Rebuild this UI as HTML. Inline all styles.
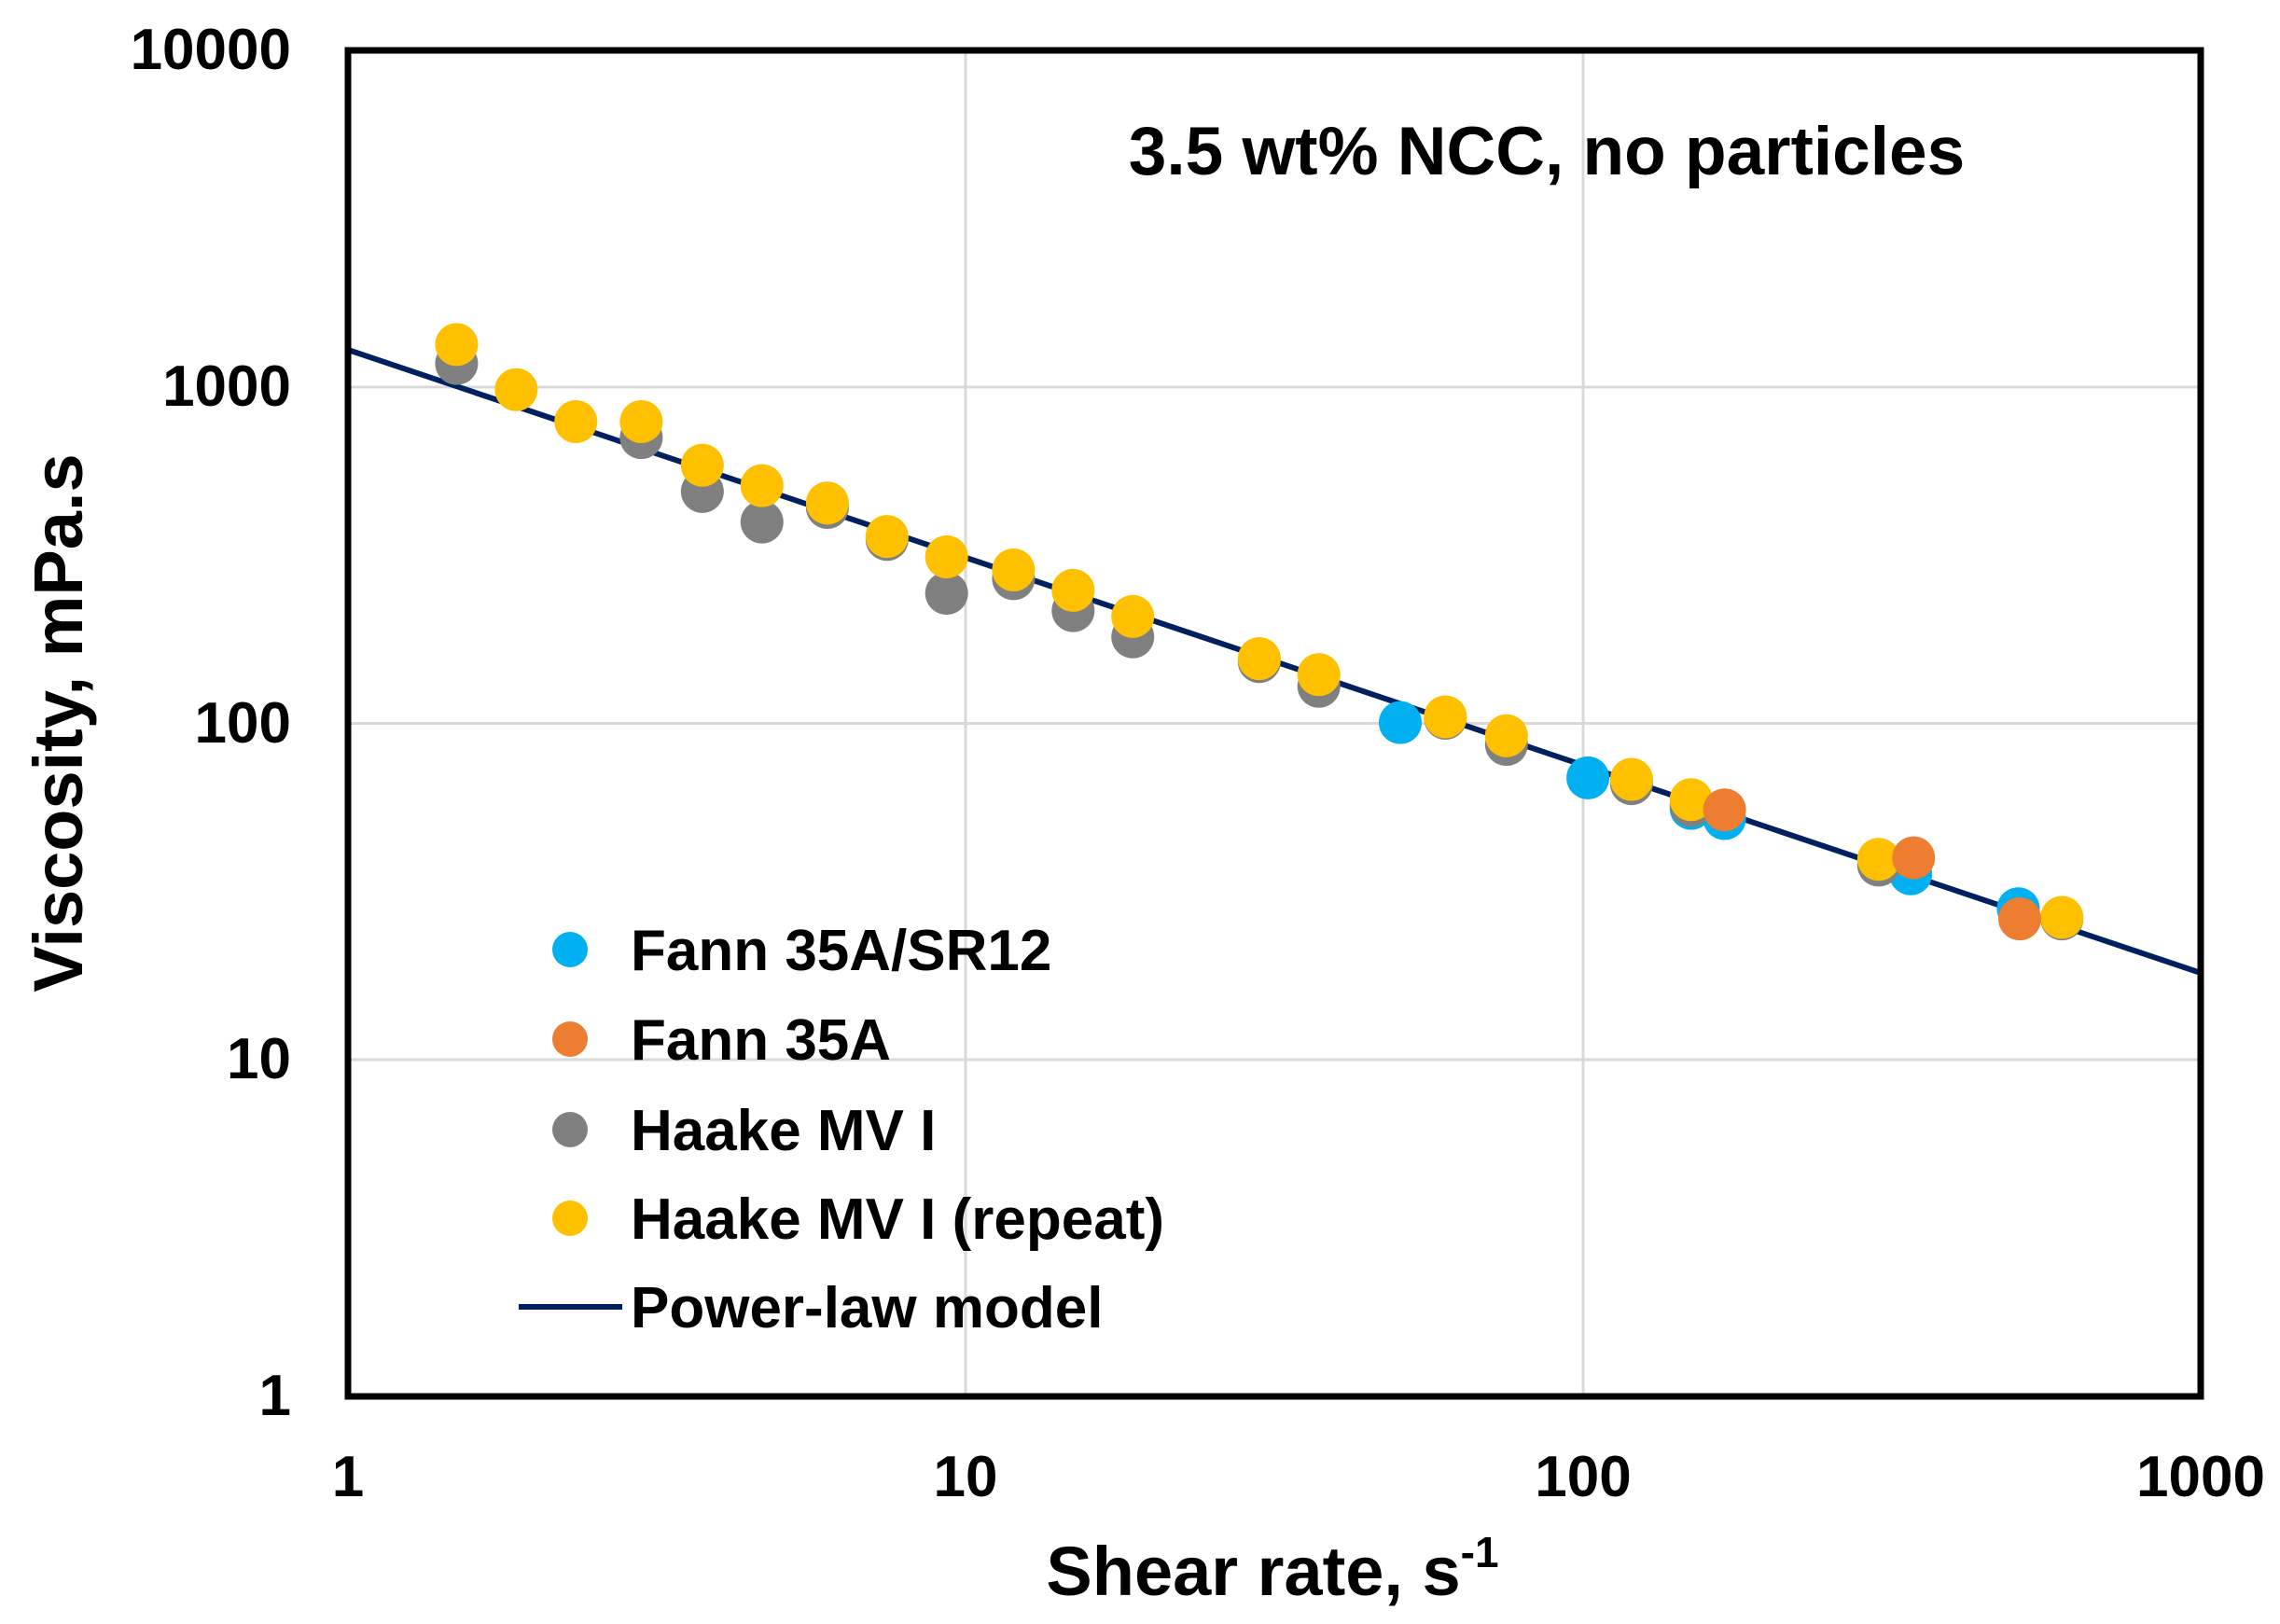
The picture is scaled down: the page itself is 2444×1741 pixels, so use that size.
<!DOCTYPE html>
<html><head><meta charset="utf-8"><style>html,body{margin:0;padding:0;background:#fff}svg{display:block}text{font-family:"Liberation Sans",Arial,sans-serif;font-weight:bold;fill:#000}</style></head>
<body>
<svg width="2444" height="1741" viewBox="0 0 2444 1741" xmlns="http://www.w3.org/2000/svg">
<rect width="2444" height="1741" fill="#fff"/>
<g stroke="#d9d9d9" stroke-width="3">
<line x1="1035" y1="54" x2="1035" y2="1497"/>
<line x1="1697" y1="54" x2="1697" y2="1497"/>
<line x1="373" y1="1136" x2="2359" y2="1136"/>
<line x1="373" y1="775.5" x2="2359" y2="775.5"/>
<line x1="373" y1="415" x2="2359" y2="415"/>
</g>
<line x1="373" y1="375" x2="2359" y2="1043" stroke="#002060" stroke-width="6"/>
<g id="pts"></g>
<rect x="373" y="54" width="1986" height="1443" fill="none" stroke="#000" stroke-width="7"/>
<g font-size="62" text-anchor="end">
<text x="312" y="74">10000</text>
<text x="312" y="435">1000</text>
<text x="312" y="796">100</text>
<text x="312" y="1156">10</text>
<text x="312" y="1517">1</text>
</g>
<g font-size="62" text-anchor="middle">
<text x="373" y="1604">1</text>
<text x="1035" y="1604">10</text>
<text x="1697" y="1604">100</text>
<text x="2359" y="1604">1000</text>
</g>
<text x="1364" y="1710" font-size="74" text-anchor="middle">Shear rate,  s<tspan font-size="46" dy="-30">-1</tspan></text>
<text transform="translate(88,775) rotate(-90)" font-size="74" text-anchor="middle">Viscosity, mPa.s</text>
<text x="1658" y="187" font-size="73" text-anchor="middle">3.5 wt% NCC, no particles</text>
<g font-size="62">
<circle cx="611" cy="1018" r="19" fill="#00B0F0"/><text x="676" y="1040">Fann 35A/SR12</text>
<circle cx="611" cy="1114" r="19" fill="#ED7D31"/><text x="676" y="1136">Fann 35A</text>
<circle cx="611" cy="1211" r="19" fill="#808080"/><text x="676" y="1233">Haake MV I</text>
<circle cx="611" cy="1306" r="19" fill="#FFC000"/><text x="676" y="1328">Haake MV I (repeat)</text>
<line x1="556" y1="1401" x2="667" y2="1401" stroke="#002060" stroke-width="6"/><text x="676" y="1423">Power-law model</text>
</g>
<script>
var s=1.5587,g=document.getElementById('pts');
var sets=[
["#00B0F0",[[963,497],[1092,535],[1163,556],[1186,563],[1314,601],[1388,625]]],
["#808080",[[314,250],[441,301],[483,338],[524,359],[569,349],[610,371],[651,408],[697,398],[738,420],[779,438],[866,455],[907,472],[994,494],[1036,512],[1122,539],[1163,554],[1292,595],[1418,632]]],
["#FFC000",[[314,237],[355,268],[396,290],[441,290],[483,320],[524,334],[569,346],[610,369],[651,383],[697,392],[738,406],[779,424],[866,453],[907,464],[994,493],[1036,506],[1122,536],[1163,550],[1292,591],[1418,631]]],
["#ED7D31",[[1186,557],[1316,590],[1389,632]]]];
sets.forEach(function(st){st[1].forEach(function(p){var c=document.createElementNS("http://www.w3.org/2000/svg","circle");c.setAttribute("cx",p[0]*s);c.setAttribute("cy",p[1]*s);c.setAttribute("r",23);c.setAttribute("fill",st[0]);g.appendChild(c);});});
</script>
</svg>
</body></html>
